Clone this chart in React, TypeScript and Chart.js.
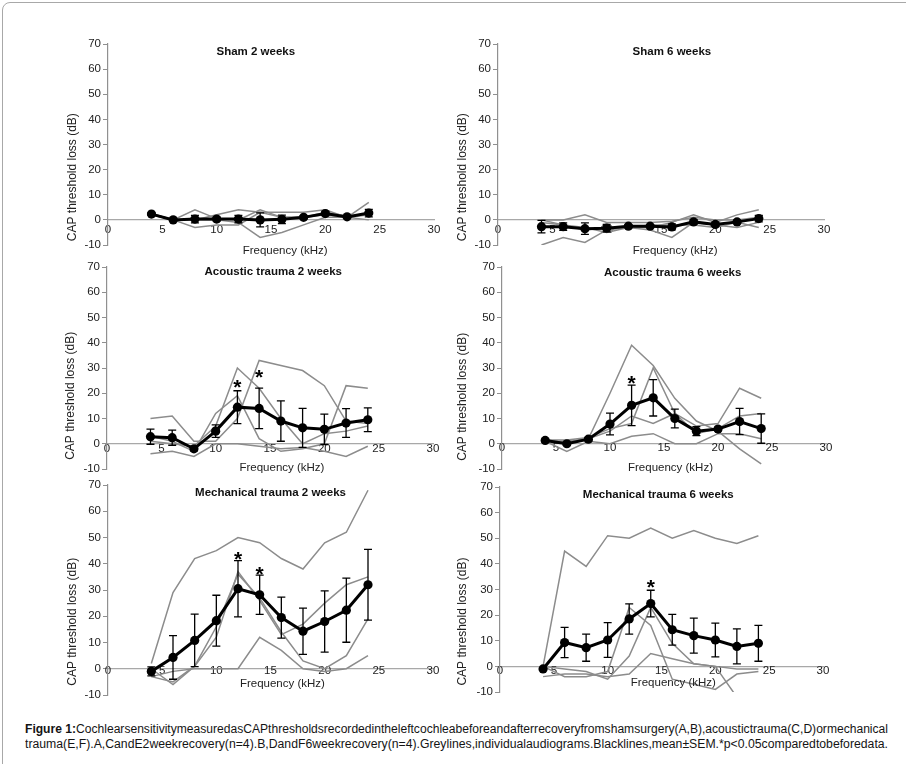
import React, { useEffect, useLayoutEffect, useRef } from "react";
import { Chart, registerables } from "chart.js";

Chart.register(...registerables);

// ---------------- DATA ----------------
const FREQ = [4, 6, 8, 10, 12, 14, 16, 18, 20, 22, 24];

// Sham 2 weeks
const SHAM2_MEAN = [2.3, 0, 0.3, 0.3, 0.3, 0, 0.2, 1, 2.5, 1.2, 2.7];
const SHAM2_SEM = [0.5, 0.3, 1.5, 0.8, 1.5, 2.8, 1.7, 0.6, 0.8, 0.4, 1.5];
const SHAM2_G1 = [2, 0, 4, 0.5, 0, 4, 1, 1, 2, 1, 7];
const SHAM2_G2 = [2, 0, -3, -2, -2, 3, 3, 3, 4, 1, 2];
const SHAM2_G3 = [2.5, 0, 0, 2, 4, 3, 1, 1, 3, 1.5, 2];
const SHAM2_G4 = [2.5, 0, 0, 0, -1, -7, -5, -2, 1, 1, 0];

// Sham 6 weeks
const SHAM6_MEAN = [-2.7, -2.7, -3.5, -3.3, -2.5, -2.5, -2.8, -0.8, -1.8, -0.8, 0.5];
const SHAM6_SEM = [2.5, 1.5, 2.3, 1.5, 0.6, 0.6, 1.2, 1, 0.8, 0.7, 1.3];
const SHAM6_G1 = [-10, -7, -9, -4, -3, -3, -1, 2, -1, 2, 4];
const SHAM6_G2 = [0, 0, 2, -1, -1, -1, -0.5, 1, 0, 0, 1];
const SHAM6_G3 = [0, -2, -3, -5, -3, -4, -7, -1, -2, -3, -1];
const SHAM6_G4 = [-1, -2, -4, -3, -3, -2, -2, -2, -3, -1, -3];

// Acoustic trauma 2 weeks
const AT2_MEAN = [2.8, 2.4, -2, 5, 14.5, 14, 9, 6.3, 5.7, 8.2, 9.5];
const AT2_SEM = [3, 3, 0.8, 2.5, 6.5, 8, 8, 7.7, 6, 5.7, 4.7];
const AT2_G1 = [10, 11, 1, 1, 10, 33, 31, 29, 23, 9, 8];
const AT2_G2 = [1, 0, -1, 7, 30, 22, 10, 0, 4, 5, 7];
const AT2_G3 = [3, 1, -3, 12, 19, 2, -3, -2, 0, 23, 22];
const AT2_G4 = [-4, -3, -5, 0, 0, -1, -2, -1.5, -3, -5, -1];
const AT2_STARS = [[12, 24.3], [14, 28.4]];

// Acoustic trauma 6 weeks
const AT6_MEAN = [1.3, 0, 1.8, 7.8, 15.2, 18.2, 10, 5, 5.8, 8.8, 6];
const AT6_SEM = [0.5, 0.5, 0.7, 4.3, 8, 7.2, 3.7, 1.8, 0.7, 5.2, 5.8];
const AT6_G1 = [1, 1, 2, 20, 39, 31, 18, 9, 5, -2, -8];
const AT6_G2 = [1.5, 1.5, 2.5, 6, 8, 30, 12, 7, 8, 22, 18];
const AT6_G3 = [1.5, 0.5, 2, 5, 11, 8, 12, 4, 6, 11, 12];
const AT6_G4 = [1, -3, 1, 0, 3, 4, 0, 0, 4, 4, 2];
const AT6_STARS = [[12, 26]];

// Mechanical trauma 2 weeks
const MT2_MEAN = [-1, 4.3, 10.8, 18.3, 30.5, 28.2, 19.5, 14.3, 18, 22.3, 32];
const MT2_SEM = [1.7, 8.3, 10, 9.7, 10.7, 7.5, 7.8, 8.8, 11.7, 12.2, 13.5];
const MT2_G1 = [2, 29, 42, 45, 50, 48, 42, 38, 48, 52, 68];
const MT2_G2 = [0, -6, 1, 12, 37, 26, 13, 17, 25, 32, 35];
const MT2_G3 = [-3, -5, 1, 16, 36, 27, 14, 3, 0, 5, 19];
const MT2_G4 = [-3, -1, 0, 0, 0, 12, 7, 0, -1, 0, 5];
const MT2_STARS = [[12, 43.7], [14, 37.9]];

// Mechanical trauma 6 weeks
const MT6_MEAN = [-1, 9.3, 7.3, 10.3, 18.5, 24.5, 14.3, 12, 10.3, 7.8, 9];
const MT6_SEM = [0.3, 5.9, 5.3, 6.8, 5.9, 5.2, 6, 6.8, 6.6, 6.8, 7];
const MT6_G1 = [0, 45, 39, 51, 50, 54, 50, 53, 50, 48, 51];
const MT6_G2 = [0, -4, -4, -2, 23, 16, -5, -7, -9, -3, -2];
const MT6_G3 = [0, -1, -2, -5, 4, 23, 9, 1, 0, -12, -12];
const MT6_G4 = [-4, -3, -3, -4, -3, 5, 3, 1, 0, -1, -1];
const MT6_STARS = [[14, 33]];

const X_MIN = 0, X_MAX = 30, X_STEP = 5;
const Y_MIN = -10, Y_MAX = 70, Y_STEP = 10;

const X_TITLE = "Frequency (kHz)";
const Y_TITLE = "CAP threshold loss (dB)";

const CAPTION_BOLD = "Figure 1:";
const CAPTION_L1 =
  "CochlearsensitivitymeasuredasCAPthresholdsrecordedintheleftcochleabeforeandafterrecoveryfromshamsurgery(A,B),acoustictrauma(C,D)ormechanical";
const CAPTION_L2 =
  "trauma(E,F).A,CandE2weekrecovery(n=4).B,DandF6weekrecovery(n=4).Greylines,individualaudiograms.Blacklines,mean±SEM.*p<0.05comparedtobeforedata.";

// ---------------- LAYOUT / STYLE ----------------
const FONT = "'Liberation Sans', Arial, Helvetica, sans-serif";
const AX_W = 52;
const PAD_T = 10;
const PAD_R = 14;
const AX_H = 26;
const CAP = 4;

type Panel = {
  title: string;
  mean: number[];
  sem: number[];
  gray: number[][];
  stars: number[][];
  box: { L: number; T: number; R: number; B: number };
  titlePos: [number, number];
  xTitlePos: [number, number];
  yTitleY: number;
  yTitleOff: number;
  tickPad: number;
};

const PANELS: Panel[] = [
  {
    title: "Sham 2 weeks",
    mean: SHAM2_MEAN, sem: SHAM2_SEM,
    gray: [SHAM2_G1, SHAM2_G2, SHAM2_G3, SHAM2_G4], stars: [],
    box: { L: 108, T: 44, R: 434, B: 245 },
    titlePos: [13.6, 67], xTitlePos: [16.3, -12.3], yTitleY: 17, yTitleOff: 35, tickPad: 3.5,
  },
  {
    title: "Sham 6 weeks",
    mean: SHAM6_MEAN, sem: SHAM6_SEM,
    gray: [SHAM6_G1, SHAM6_G2, SHAM6_G3, SHAM6_G4], stars: [],
    box: { L: 498, T: 44, R: 824, B: 245 },
    titlePos: [16.0, 67], xTitlePos: [16.3, -12.3], yTitleY: 17, yTitleOff: 35, tickPad: 3.5,
  },
  {
    title: "Acoustic trauma 2 weeks",
    mean: AT2_MEAN, sem: AT2_SEM,
    gray: [AT2_G1, AT2_G2, AT2_G3, AT2_G4], stars: AT2_STARS,
    box: { L: 107, T: 267, R: 433, B: 469 },
    titlePos: [15.3, 68.2], xTitlePos: [16.1, -9.5], yTitleY: 19, yTitleOff: 36, tickPad: -1.5,
  },
  {
    title: "Acoustic trauma 6 weeks",
    mean: AT6_MEAN, sem: AT6_SEM,
    gray: [AT6_G1, AT6_G2, AT6_G3, AT6_G4], stars: AT6_STARS,
    box: { L: 502, T: 267, R: 826, B: 469 },
    titlePos: [15.8, 67.8], xTitlePos: [15.6, -9.5], yTitleY: 18.6, yTitleOff: 39, tickPad: -3,
  },
  {
    title: "Mechanical trauma 2 weeks",
    mean: MT2_MEAN, sem: MT2_SEM,
    gray: [MT2_G1, MT2_G2, MT2_G3, MT2_G4], stars: MT2_STARS,
    box: { L: 108, T: 485, R: 433, B: 695 },
    titlePos: [15.0, 66.9], xTitlePos: [16.1, -5.7], yTitleY: 17.9, yTitleOff: 35, tickPad: -4.5,
  },
  {
    title: "Mechanical trauma 6 weeks",
    mean: MT6_MEAN, sem: MT6_SEM,
    gray: [MT6_G1, MT6_G2, MT6_G3, MT6_G4], stars: MT6_STARS,
    box: { L: 500, T: 487, R: 823, B: 692 },
    titlePos: [14.7, 66.9], xTitlePos: [16.1, -6.6], yTitleY: 17.5, yTitleOff: 37, tickPad: -2.2,
  },
];

function makePlugin(p: Panel) {
  return {
    id: "annot",
    beforeDatasetDraw(chart: any, args: any) {
      if (args.index !== 0) return;
      const { ctx, chartArea, scales } = chart;
      const x = scales.x, y = scales.y;
      ctx.save();
      ctx.beginPath();
      ctx.rect(chartArea.left, chartArea.top, chartArea.right - chartArea.left, chartArea.bottom - chartArea.top);
      ctx.clip();
      ctx.strokeStyle = "#000";
      ctx.lineWidth = 1.3;
      ctx.beginPath();
      FREQ.forEach((f, i) => {
        const px = x.getPixelForValue(f);
        const t = y.getPixelForValue(p.mean[i] + p.sem[i]);
        const b = y.getPixelForValue(p.mean[i] - p.sem[i]);
        ctx.moveTo(px, t); ctx.lineTo(px, b);
        ctx.moveTo(px - CAP, t); ctx.lineTo(px + CAP, t);
        ctx.moveTo(px - CAP, b); ctx.lineTo(px + CAP, b);
      });
      ctx.stroke();
      ctx.restore();
    },
    afterDraw(chart: any) {
      const { ctx, chartArea, scales } = chart;
      const x = scales.x, y = scales.y;
      ctx.save();
      ctx.fillStyle = "#111";
      ctx.textAlign = "center";
      ctx.textBaseline = "middle";
      ctx.font = `bold 11.5px ${FONT}`;
      ctx.fillText(p.title, x.getPixelForValue(p.titlePos[0]), y.getPixelForValue(p.titlePos[1]));
      ctx.fillStyle = "#222";
      ctx.font = `11.5px ${FONT}`;
      ctx.fillText(X_TITLE, x.getPixelForValue(p.xTitlePos[0]), y.getPixelForValue(p.xTitlePos[1]));
      ctx.save();
      ctx.translate(chartArea.left - p.yTitleOff, y.getPixelForValue(p.yTitleY));
      ctx.rotate(-Math.PI / 2);
      ctx.font = `12px ${FONT}`;
      ctx.fillText(Y_TITLE, 0, 0);
      ctx.restore();
      ctx.fillStyle = "#000";
      ctx.font = `bold 21px ${FONT}`;
      ctx.textBaseline = "alphabetic";
      p.stars.forEach((s) => {
        ctx.fillText("*", x.getPixelForValue(s[0]), y.getPixelForValue(s[1]) + 12);
      });
      ctx.restore();
    },
  };
}

function buildConfig(p: Panel): any {
  const meanSet = {
    data: FREQ.map((f, i) => ({ x: f, y: p.mean[i] })),
    borderColor: "#000",
    backgroundColor: "#000",
    borderWidth: 3,
    pointRadius: 4.6,
    pointBorderWidth: 0,
    pointBackgroundColor: "#000",
    tension: 0,
  };
  const graySets = p.gray.map((g) => ({
    data: FREQ.map((f, i) => ({ x: f, y: g[i] })),
    borderColor: "#8c8c8c",
    borderWidth: 1.5,
    pointRadius: 0,
    tension: 0,
  }));
  return {
    type: "line",
    data: { datasets: [meanSet, ...graySets] },
    options: {
      responsive: false,
      animation: false,
      events: [],
      layout: { padding: { top: PAD_T, right: PAD_R, bottom: AX_H, left: 0 } },
      plugins: {
        legend: { display: false },
        tooltip: { enabled: false },
        title: { display: false },
      },
      scales: {
        x: {
          type: "linear",
          min: X_MIN,
          max: X_MAX,
          position: { y: 0 },
          ticks: {
            stepSize: X_STEP,
            autoSkip: false,
            maxRotation: 0,
            padding: p.tickPad,
            color: "#222",
            font: { family: FONT, size: 11.5 },
          },
          grid: { drawOnChartArea: false, drawTicks: false },
          border: { color: "#a8a8a8", width: 1.2 },
          afterFit: (s: any) => { s.height = 0; },
        },
        y: {
          type: "linear",
          min: Y_MIN,
          max: Y_MAX,
          position: "left",
          ticks: {
            stepSize: Y_STEP,
            padding: 2,
            color: "#222",
            font: { family: FONT, size: 11.5 },
          },
          grid: { drawOnChartArea: false, drawTicks: true, tickLength: 5, color: "#909090" },
          border: { color: "#909090", width: 1.2 },
          afterFit: (s: any) => { s.width = AX_W; },
        },
      },
    },
    plugins: [makePlugin(p)],
  };
}

function PanelChart({ p }: { p: Panel }) {
  const ref = useRef<HTMLCanvasElement>(null);
  const w = p.box.R - p.box.L + AX_W + PAD_R;
  const h = p.box.B - p.box.T + PAD_T + AX_H;
  useEffect(() => {
    if (!ref.current) return;
    const chart = new Chart(ref.current, buildConfig(p));
    return () => chart.destroy();
  }, [p]);
  return (
    <canvas
      ref={ref}
      width={w}
      height={h}
      style={{ position: "absolute", left: p.box.L - AX_W, top: p.box.T - PAD_T, width: w, height: h }}
    />
  );
}

const CAPTION_LEFT = 25;
const CAPTION_W = 863;

function CaptionLine({ top, bold, text }: { top: number; bold?: string; text: string }) {
  const ref = useRef<HTMLDivElement>(null);
  useLayoutEffect(() => {
    const el = ref.current;
    if (!el) return;
    el.style.transform = "none";
    const wd = el.getBoundingClientRect().width;
    if (wd > 0) el.style.transform = `scaleX(${CAPTION_W / wd})`;
  }, []);
  return (
    <div
      ref={ref}
      style={{
        position: "absolute",
        left: CAPTION_LEFT,
        top,
        whiteSpace: "nowrap",
        transformOrigin: "0 0",
        fontFamily: FONT,
        fontSize: 12,
        lineHeight: "14px",
        color: "#141414",
        display: "inline-block",
      }}
    >
      {bold ? <b>{bold}</b> : null}
      {text}
    </div>
  );
}

export default function App() {
  return (
    <div
      style={{
        position: "absolute",
        left: 0,
        top: 0,
        width: 906,
        height: 764,
        overflow: "hidden",
        background: "#fff",
      }}
    >
      <div
        style={{
          position: "absolute",
          left: 2,
          top: 2,
          width: 1000,
          height: 1000,
          border: "1.5px solid #a8a8a8",
          borderRadius: 8,
          boxSizing: "border-box",
        }}
      />
      {PANELS.map((p, i) => (
        <PanelChart key={i} p={p} />
      ))}
      <CaptionLine top={722} bold={CAPTION_BOLD} text={CAPTION_L1} />
      <CaptionLine top={737} text={CAPTION_L2} />
    </div>
  );
}
